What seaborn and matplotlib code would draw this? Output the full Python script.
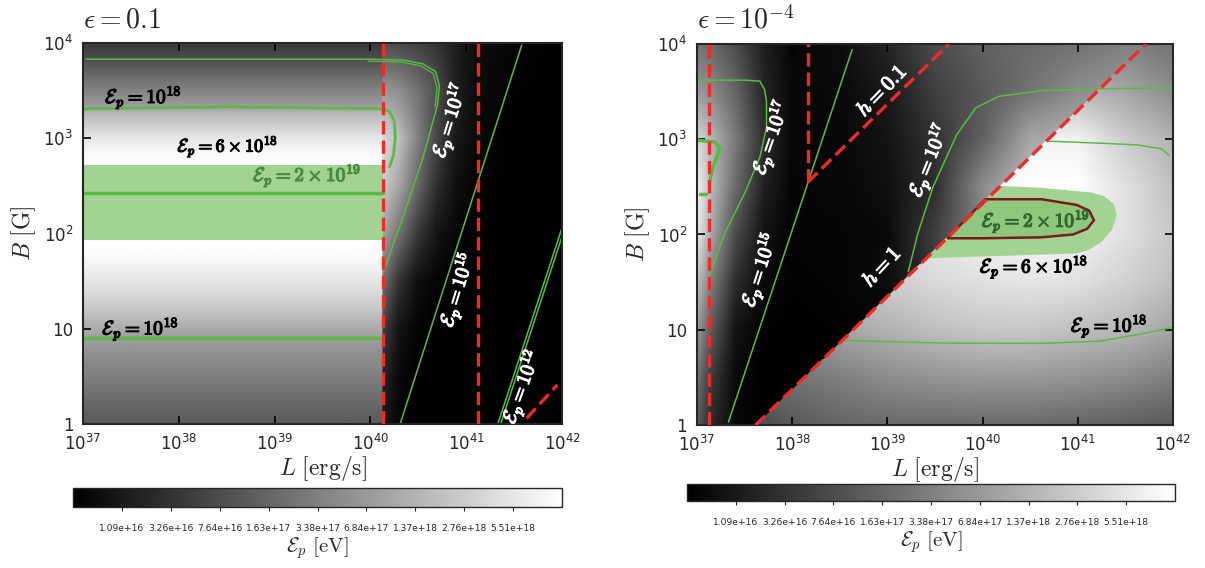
import numpy as np
import seaborn as sns
import matplotlib
matplotlib.use('Agg')
import matplotlib.pyplot as plt
import matplotlib.patheffects as pe

sns.set_style('ticks')
plt.rcParams['font.family'] = ['DejaVu Sans']
plt.rcParams['mathtext.fontset'] = 'cm'
plt.rcParams['xtick.direction'] = 'in'
plt.rcParams['ytick.direction'] = 'in'

# ---- axis ticks (log10 of L and B) ----
L_ticks = [37, 38, 39, 40, 41, 42]
L_ticklabels = [r'$\mathdefault{10^{%d}}$' % t for t in L_ticks]
B_ticks = [0, 1, 2, 3, 4]
B_ticklabels = ['1', '10', r'$\mathdefault{10^{2}}$', r'$\mathdefault{10^{3}}$', r'$\mathdefault{10^{4}}$']

# colorbar labels (evenly spaced on the bar)
cbar_pos = [0.1, 0.2, 0.3, 0.4, 0.5, 0.6, 0.7, 0.8, 0.9]
cbar_labels = ['1.09e+16', '3.26e+16', '7.64e+16', '1.63e+17', '3.38e+17',
               '6.84e+17', '1.37e+18', '2.76e+18', '5.51e+18']

# ---- background shade, eps = 0.1 (0 = black, 1 = white) ----
left_edge_L = 40.13            # red dashed line splitting the two regimes
left_bg_B = [0, 0.5, 0.9, 1.2, 1.5, 1.75, 1.9, 2.7, 2.85, 3.0, 3.25, 3.35, 3.6, 3.8, 4.0]
left_bg_val = [0.35, 0.5, 0.62, 0.78, 0.9, 0.98, 1.0, 1.0, 0.97, 0.9, 0.72, 0.6, 0.45, 0.32, 0.22]
right_reg_L = [40.13, 40.3, 40.5, 40.7, 40.9, 41.1, 41.5, 42.0]
right_reg_B = [0, 0.5, 1, 1.5, 2, 2.5, 3, 3.5, 4]
right_reg_val = [
    [0.10, 0.02, 0.00, 0.00, 0.00, 0.00, 0.00, 0.00],
    [0.15, 0.04, 0.00, 0.00, 0.00, 0.00, 0.00, 0.00],
    [0.25, 0.08, 0.02, 0.00, 0.00, 0.00, 0.00, 0.00],
    [0.45, 0.20, 0.06, 0.02, 0.00, 0.00, 0.00, 0.00],
    [0.65, 0.45, 0.22, 0.08, 0.03, 0.00, 0.00, 0.00],
    [0.80, 0.65, 0.40, 0.18, 0.06, 0.02, 0.00, 0.00],
    [0.85, 0.75, 0.50, 0.27, 0.10, 0.04, 0.00, 0.00],
    [0.60, 0.55, 0.45, 0.30, 0.12, 0.05, 0.01, 0.00],
    [0.30, 0.28, 0.25, 0.20, 0.12, 0.06, 0.02, 0.00],
]

# ---- background shade, eps = 1e-4 ----
r_grid_L = [37.0, 37.13, 37.4, 37.7, 38.0, 38.5, 39.0, 39.5, 40.0, 40.5, 41.0, 41.5, 42.0]
r_grid_B = [0, 0.5, 1, 1.5, 2, 2.5, 3, 3.5, 4]
r_upper_val = [
    [0.35, 0.18, 0.03, 0.00, 0.00, 0.00, 0.00, 0.00, 0.00, 0.00, 0.00, 0.00, 0.00],
    [0.45, 0.25, 0.04, 0.00, 0.00, 0.00, 0.00, 0.00, 0.00, 0.00, 0.00, 0.00, 0.00],
    [0.60, 0.38, 0.08, 0.01, 0.00, 0.01, 0.02, 0.03, 0.05, 0.05, 0.05, 0.05, 0.05],
    [0.75, 0.52, 0.18, 0.04, 0.01, 0.02, 0.05, 0.20, 0.30, 0.30, 0.30, 0.30, 0.30],
    [0.92, 0.68, 0.30, 0.07, 0.02, 0.02, 0.04, 0.25, 0.50, 0.60, 0.60, 0.60, 0.60],
    [0.95, 0.75, 0.42, 0.13, 0.02, 0.03, 0.06, 0.18, 0.55, 0.75, 0.75, 0.75, 0.75],
    [0.85, 0.72, 0.48, 0.18, 0.03, 0.03, 0.08, 0.20, 0.38, 0.65, 0.70, 0.70, 0.70],
    [0.60, 0.55, 0.40, 0.15, 0.03, 0.04, 0.10, 0.25, 0.35, 0.45, 0.55, 0.60, 0.60],
    [0.45, 0.42, 0.30, 0.12, 0.03, 0.05, 0.15, 0.30, 0.38, 0.42, 0.45, 0.50, 0.50],
]
r_lower_val = [
    [0.30, 0.30, 0.30, 0.30, 0.35, 0.40, 0.42, 0.42, 0.42, 0.42, 0.40, 0.38, 0.35],
    [0.45, 0.45, 0.45, 0.45, 0.45, 0.50, 0.55, 0.58, 0.60, 0.60, 0.58, 0.55, 0.50],
    [0.60, 0.60, 0.60, 0.60, 0.60, 0.65, 0.70, 0.75, 0.78, 0.78, 0.75, 0.72, 0.65],
    [0.75, 0.75, 0.75, 0.75, 0.75, 0.75, 0.80, 0.85, 0.88, 0.90, 0.88, 0.82, 0.75],
    [0.85, 0.85, 0.85, 0.85, 0.85, 0.85, 0.85, 0.90, 0.95, 0.97, 0.95, 0.88, 0.78],
    [0.90, 0.90, 0.90, 0.90, 0.90, 0.90, 0.90, 0.92, 0.95, 1.00, 1.00, 0.88, 0.75],
    [0.90, 0.90, 0.90, 0.90, 0.90, 0.90, 0.90, 0.90, 0.92, 0.95, 0.95, 0.80, 0.70],
    [0.75, 0.75, 0.75, 0.75, 0.75, 0.75, 0.75, 0.75, 0.75, 0.75, 0.72, 0.65, 0.55],
    [0.60, 0.60, 0.60, 0.60, 0.60, 0.60, 0.60, 0.60, 0.60, 0.58, 0.55, 0.50, 0.45],
]

# ---- eps = 0.1 lines (log10 L, log10 B) ----
l_red1_L, l_red1_B = [40.13, 40.13], [0, 4]
l_red2_L, l_red2_B = [41.12, 41.12], [0, 4]
l_red3_L, l_red3_B = [41.63, 41.95], [0.06, 0.41]
l_e17_L = [37.03, 38.5, 40.0, 40.35, 40.55, 40.68, 40.72, 40.70, 40.55, 40.35, 40.13]
l_e17_B = [3.83, 3.83, 3.83, 3.82, 3.78, 3.70, 3.55, 3.35, 2.80, 2.20, 1.58]
l_e18a_L = [37.0, 38.5, 40.13, 40.2, 40.25, 40.26, 40.24, 40.2]
l_e18a_B = [3.31, 3.33, 3.31, 3.28, 3.18, 3.0, 2.82, 2.70]
l_e18b_L, l_e18b_B = [37.0, 40.13], [0.9, 0.9]
l_band_lo, l_band_hi, l_band_mid = 1.93, 2.72, 2.42
l_e15_L, l_e15_B = [40.31, 41.58], [0.0, 3.98]
l_e12_L, l_e12_B = [41.33, 42.0], [0.0, 2.06]

# ---- eps = 1e-4 lines ----
r_red1_L, r_red1_B = [37.13, 37.13], [0, 4]
r_red2_L, r_red2_B = [38.165, 38.165], [2.55, 4]
r_h01_L, r_h01_B = [38.165, 39.646], [2.55, 4.0]
r_h1_L, r_h1_B = [37.617, 41.716], [0.0, 4.0]
r_e15_L, r_e15_B = [37.33, 38.63], [0.03, 3.94]
r_e17a_L = [37.0, 37.5, 37.66, 37.71, 37.73, 37.73, 37.66, 37.50, 37.29, 37.13]
r_e17a_B = [3.62, 3.62, 3.61, 3.52, 3.40, 3.12, 2.81, 2.43, 2.01, 1.56]
r_small_L = [37.0, 37.19, 37.24, 37.17, 37.13]
r_small_B = [2.99, 2.97, 2.90, 2.71, 2.55]
r_e17b_L = [39.22, 39.32, 39.48, 39.73, 39.93, 40.17, 40.62, 41.23, 42.0]
r_e17b_B = [1.61, 2.01, 2.50, 3.05, 3.33, 3.45, 3.51, 3.53, 3.54]
r_e17c_L = [40.68, 41.2, 41.63, 41.88, 41.96]
r_e17c_B = [2.98, 2.96, 2.94, 2.90, 2.83]
r_e18_L = [38.53, 39.6, 40.62, 41.23, 41.63, 41.98]
r_e18_B = [0.887, 0.86, 0.856, 0.88, 0.95, 1.02]
r_blob_L = [39.40, 40.99, 41.12, 41.25, 41.36, 41.41, 41.38, 41.28, 41.15, 40.62, 40.17]
r_blob_B = [1.75, 1.80, 1.84, 1.92, 2.05, 2.20, 2.32, 2.40, 2.44, 2.49, 2.51]
r_core_L = [39.63, 40.01, 40.62, 40.95, 41.10, 41.17, 41.12, 40.99, 40.62, 40.03, 39.63]
r_core_B = [1.96, 1.96, 1.97, 2.00, 2.06, 2.15, 2.25, 2.31, 2.37, 2.37, 1.96]

GREEN = '#5cb946'
FILL = '#a3d393'
RED = '#ee2a2a'


def smooth(knot_x, knot_y, vals, fx, fy):
    vals = np.asarray(vals)
    rows = np.array([np.interp(fx, knot_x, r) for r in vals])
    return np.array([np.interp(fy, knot_y, rows[:, j]) for j in range(len(fx))]).T


def green(ax, xs, ys, lw=1.1, color=GREEN):
    sns.lineplot(x=xs, y=ys, ax=ax, sort=False, estimator=None, color=color, lw=lw)


def red(ax, xs, ys):
    ax.plot(xs, ys, color=RED, lw=2.4, dashes=(4, 1.8), zorder=5)


def label(ax, x, y, s, rot=0, color='black', size=13):
    ax.text(x, y, s, rotation=rot, color=color, fontsize=size, ha='center', va='center',
            zorder=6, path_effects=[pe.withStroke(linewidth=0.9, foreground=color)])


def dress(ax, title):
    ax.set_xlim(37, 42)
    ax.set_ylim(0, 4)
    ax.set_xticks(L_ticks)
    ax.set_xticklabels(L_ticklabels, fontsize=12)
    ax.set_yticks(B_ticks)
    ax.set_yticklabels(B_ticklabels, fontsize=12)
    ax.tick_params(top=True, right=True, length=6, width=1.2, color='black', pad=7)
    ax.set_xlabel(r'$L\ \mathrm{[erg/s]}$', fontsize=17, labelpad=0)
    ax.set_ylabel(r'$B\ \mathrm{[G]}$', fontsize=17, labelpad=4)
    for s in ax.spines.values():
        s.set_linewidth(1.5)
    ax.text(0.0, 1.025, title, transform=ax.transAxes, fontsize=20, ha='left', va='bottom')


def colorbar(fig, im, rect):
    cax = fig.add_axes(rect)
    cb = fig.colorbar(im, cax=cax, orientation='horizontal', ticks=cbar_pos)
    cb.set_ticklabels(cbar_labels)
    cax.tick_params(labelsize=6.6, length=3, direction='out', pad=9)
    cb.outline.set_linewidth(1.0)
    cb.set_label(r'$\mathcal{E}_p\ \mathrm{[eV]}$', fontsize=15, labelpad=2)


fig = plt.figure(figsize=(12.05, 5.68), dpi=100)
fx = np.linspace(37, 42, 600)
fy = np.linspace(0, 4, 480)
FX, FY = np.meshgrid(fx, fy)

# ===================== eps = 0.1 =====================
ax1 = fig.add_axes([0.0689, 0.2535, 0.3975, 0.6708])
band = np.interp(fy, left_bg_B, left_bg_val)[:, None] * np.ones_like(fx)[None, :]
right_side = smooth(right_reg_L, right_reg_B, right_reg_val, fx, fy)
img1 = np.where(FX < left_edge_L, band, right_side)
im1 = ax1.imshow(img1, extent=[37, 42, 0, 4], origin='lower', cmap='gray', vmin=0, vmax=1,
                 aspect='auto', interpolation='bilinear')

ax1.fill_between([37, left_edge_L], l_band_lo, l_band_hi, color=FILL, lw=0, zorder=2)
green(ax1, [37, left_edge_L], [l_band_mid, l_band_mid], lw=2.5)
green(ax1, l_e17_L, l_e17_B, lw=1.1)
green(ax1, [x - 0.025 for x in l_e17_L[2:8]], [y - 0.02 for y in l_e17_B[2:8]], lw=0.9)
green(ax1, l_e18a_L, l_e18a_B, lw=2.0)
green(ax1, l_e18b_L, l_e18b_B, lw=2.5)
green(ax1, l_e15_L, l_e15_B, lw=1.1)
green(ax1, l_e12_L, l_e12_B, lw=1.1)
green(ax1, [x + 0.03 for x in l_e12_L], l_e12_B, lw=1.1)
red(ax1, l_red1_L, l_red1_B)
red(ax1, l_red2_L, l_red2_B)
red(ax1, l_red3_L, l_red3_B)

label(ax1, 37.63, 3.43, r'$\mathcal{E}_p = 10^{18}$', size=14)
label(ax1, 38.51, 2.91, r'$\mathcal{E}_p = 6\times10^{18}$')
label(ax1, 39.34, 2.61, r'$\mathcal{E}_p = 2\times10^{19}$', color='#4a8a3c', size=14)
label(ax1, 37.60, 1.00, r'$\mathcal{E}_p = 10^{18}$', size=14)
label(ax1, 40.83, 3.19, r'$\mathcal{E}_p = 10^{17}$', rot=73, color='white', size=14)
label(ax1, 40.91, 1.41, r'$\mathcal{E}_p = 10^{15}$', rot=73, color='white', size=14)
label(ax1, 41.58, 0.39, r'$\mathcal{E}_p = 10^{12}$', rot=70, color='white', size=14)
dress(ax1, r'$\epsilon = 0.1$')
colorbar(fig, im1, [0.0606, 0.1074, 0.4058, 0.0335])

# ===================== eps = 1e-4 =====================
ax2 = fig.add_axes([0.5784, 0.2518, 0.3950, 0.6708])
upper = smooth(r_grid_L, r_grid_B, r_upper_val, fx, fy)
lower = smooth(r_grid_L, r_grid_B, r_lower_val, fx, fy)
h1_line = np.interp(FX, r_h1_L, r_h1_B, left=-1, right=5)
img2 = np.where(FY > h1_line, upper, lower)
im2 = ax2.imshow(img2, extent=[37, 42, 0, 4], origin='lower', cmap='gray', vmin=0, vmax=1,
                 aspect='auto', interpolation='bilinear')

ax2.fill(r_blob_L, r_blob_B, color=FILL, lw=0, zorder=2)
ax2.fill(r_core_L, r_core_B, facecolor='#8fc77f', edgecolor='#7a1c1c', lw=1.8, zorder=3)
green(ax2, r_e15_L, r_e15_B, lw=1.1)
green(ax2, r_e17a_L, r_e17a_B, lw=1.1)
green(ax2, r_small_L, r_small_B, lw=2.5)
green(ax2, [37.03, 37.1], [2.42, 2.42], lw=2.5)
green(ax2, r_e17b_L, r_e17b_B, lw=1.1)
green(ax2, r_e17c_L, r_e17c_B, lw=1.1)
green(ax2, r_e18_L, r_e18_B, lw=1.1)
red(ax2, r_red1_L, r_red1_B)
red(ax2, r_red2_L, r_red2_B)
red(ax2, r_h01_L, r_h01_B)
red(ax2, r_h1_L, r_h1_B)

label(ax2, 37.78, 3.02, r'$\mathcal{E}_p = 10^{17}$', rot=71, color='white', size=14)
label(ax2, 37.66, 1.63, r'$\mathcal{E}_p = 10^{15}$', rot=72, color='white', size=14)
label(ax2, 39.44, 2.78, r'$\mathcal{E}_p = 10^{17}$', rot=68, color='white', size=14)
label(ax2, 38.94, 3.51, r'$h = 0.1$', rot=46, color='white', size=15)
label(ax2, 38.94, 1.66, r'$h = 1$', rot=47, color='white', size=15)
label(ax2, 40.56, 2.14, r'$\mathcal{E}_p = 2\times10^{19}$', color='#2f6a2a', size=14)
label(ax2, 40.54, 1.66, r'$\mathcal{E}_p = 6\times10^{18}$', size=14)
label(ax2, 41.33, 1.04, r'$\mathcal{E}_p = 10^{18}$', size=14)
dress(ax2, r'$\epsilon = 10^{-4}$')
colorbar(fig, im2, [0.5701, 0.1180, 0.4050, 0.0300])

fig.savefig('out.png', dpi=100)
